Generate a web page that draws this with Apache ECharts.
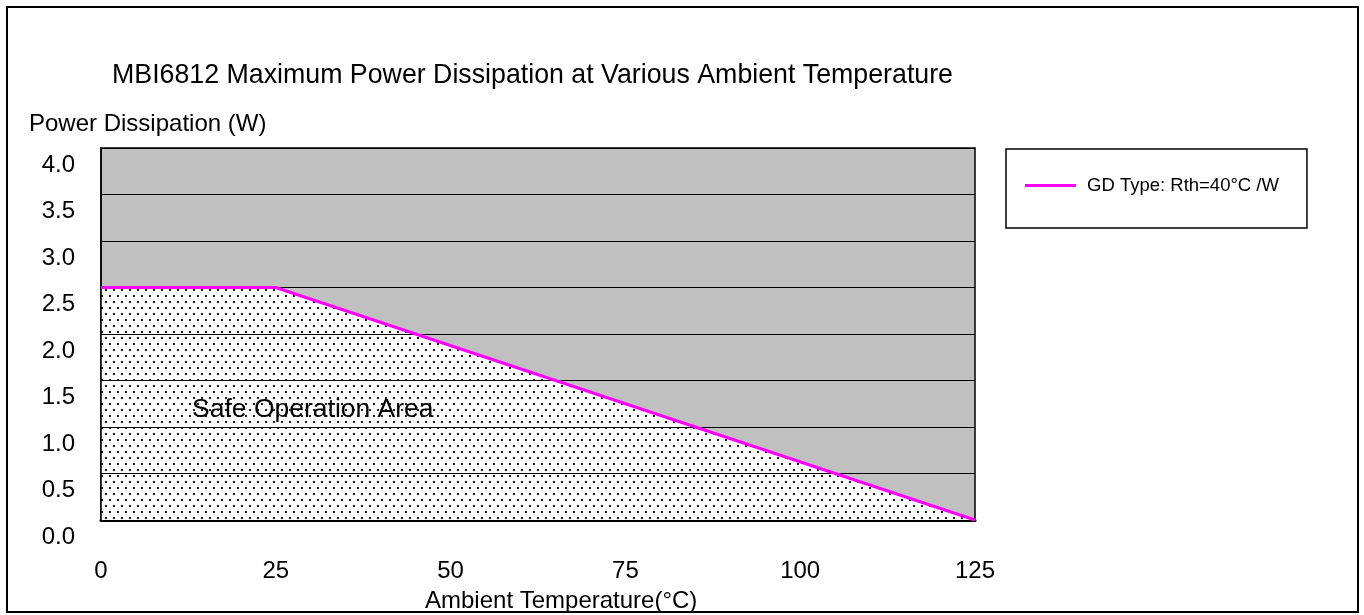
<!DOCTYPE html>
<html>
<head>
<meta charset="utf-8">
<script src="https://cdn.jsdelivr.net/npm/echarts@6/dist/echarts.min.js"></script>
<style>html,body{margin:0;padding:0;background:#fff}#c{width:1364px;height:615px}</style>
</head>
<body>
<div id="c"></div>
<script>
// ---- data ----
const temperatures = [0, 25, 125];           // Ambient temperature (°C)
const powerDissipation = [2.5, 2.5, 0];      // Max power dissipation (W)
const seriesName = 'GD Type: Rth=40°C /W';
const titleText = 'MBI6812 Maximum Power Dissipation at Various Ambient Temperature';
const yAxisTitle = 'Power Dissipation (W)';
const xAxisTitle = 'Ambient Temperature(°C)';
const areaLabel = 'Safe Operation Area';

const points = temperatures.map((t, i) => [t, powerDissipation[i]]);

// dotted pattern for the safe area
const pat = document.createElement('canvas');
pat.width = 8; pat.height = 12;
const pc = pat.getContext('2d');
pc.fillStyle = '#ffffff'; pc.fillRect(0, 0, 8, 12);
pc.fillStyle = '#202020';
pc.fillRect(1, 1, 2, 2);
pc.fillRect(5, 7, 2, 2);

const FONT = 'Liberation Sans, Arial, sans-serif';
const chart = echarts.init(document.getElementById('c'), null, {renderer: 'canvas'});
chart.setOption({
  animation: false,
  backgroundColor: '#ffffff',
  title: [
    {text: titleText, left: 112, top: 62, padding: 0, textStyle: {fontFamily: FONT, fontSize: 26.75, fontWeight: 'normal', color: '#000'}},
    {text: yAxisTitle, left: 29, top: 112, padding: 0, textStyle: {fontFamily: FONT, fontSize: 24, fontWeight: 'normal', color: '#000'}},
    {text: xAxisTitle, left: 425, top: 589, padding: 0, textStyle: {fontFamily: FONT, fontSize: 24, fontWeight: 'normal', color: '#000'}}
  ],
  grid: {left: 101, top: 148, right: 389, bottom: 95, show: true, backgroundColor: '#C0C0C0', borderColor: '#000', borderWidth: 1.5},
  legend: {
    left: 1006, top: 149,
    data: [{name: seriesName, icon: 'rect'}],
    itemWidth: 51, itemHeight: 3,
    padding: [27, 28, 33, 19],
    borderColor: '#000', borderWidth: 1.5,
    textStyle: {fontFamily: FONT, fontSize: 18.5, color: '#000', padding: [0, 0, 0, 6]}
  },
  xAxis: {
    type: 'value', min: 0, max: 125, interval: 25,
    axisLine: {show: true, lineStyle: {color: '#000', width: 3}},
    axisTick: {show: false},
    splitLine: {show: false},
    axisLabel: {fontFamily: FONT, fontSize: 24, color: '#000', margin: 39}
  },
  yAxis: {
    type: 'value', min: 0, max: 4, interval: 0.5, z: 3,
    axisLine: {show: true, lineStyle: {color: '#000', width: 1.5}},
    axisTick: {show: false},
    splitLine: {show: true, lineStyle: {color: '#000', width: 1}},
    axisLabel: {fontFamily: FONT, fontSize: 24, color: '#000', margin: 26,
      verticalAlign: 'top', lineHeight: 34,
      formatter: v => v.toFixed(1)}
  },
  series: [
    {
      name: 'area', type: 'line', data: points, z: 1, silent: true,
      symbol: 'none', lineStyle: {width: 0, opacity: 0},
      areaStyle: {color: {image: pat, repeat: 'repeat'}, opacity: 1}
    },
    {
      name: seriesName, type: 'line', data: points, z: 5,
      symbol: 'none', color: '#FF00FF',
      lineStyle: {color: '#FF00FF', width: 3}
    }
  ],
  graphic: [
    {type: 'rect', shape: {x: 7, y: 7, width: 1351, height: 605}, style: {fill: 'none', stroke: '#000', lineWidth: 2}, z: 10, silent: true},
    {type: 'text', x: 192, y: 396, style: {text: areaLabel, font: '26.5px ' + FONT, fill: '#000'}, z: 10}
  ]
});
</script>
</body>
</html>
